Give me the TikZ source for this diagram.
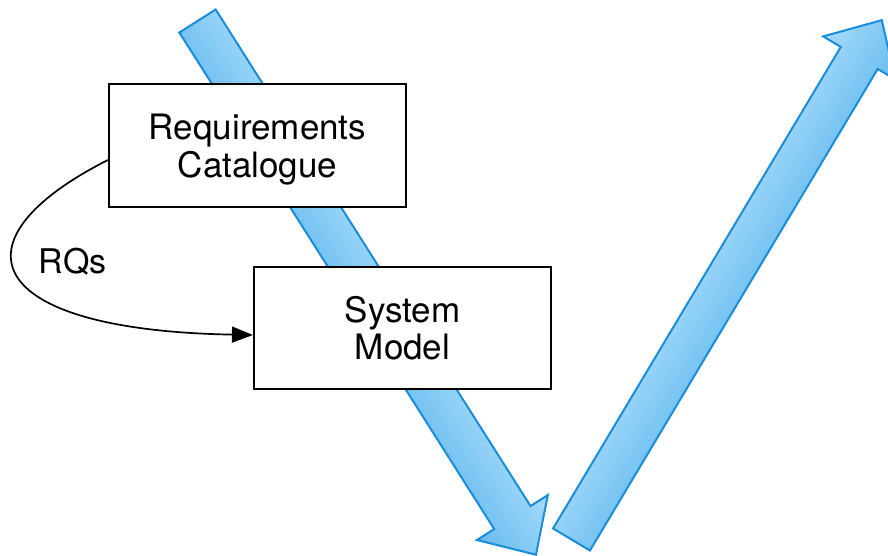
\documentclass[tikz,border=0pt]{standalone}
\usepackage{fontspec}
\setmainfont{TeX Gyre Heros}
\usetikzlibrary{arrows.meta}

\definecolor{vblue}{RGB}{27,141,216}
\definecolor{vlight}{RGB}{166,219,250}
\definecolor{vdark}{RGB}{102,187,239}

\tikzset{
  flowbox/.style={draw=black, line width=2.2pt, fill=white, inner sep=0pt,
    minimum width=297pt, minimum height=122.5pt, align=center, text depth=0pt,
    font=\fontsize{35}{37.5}\selectfont},
  plainlabel/.style={inner sep=0pt, font=\fontsize{34}{37.5}\selectfont},
  bigarrow/.style={draw=vblue, line width=2pt, line join=miter,
    top color=vlight, bottom color=vdark},
  link/.style={line width=1.7pt, -{Triangle[length=21pt,width=16pt]}},
}

\begin{document}
\begin{tikzpicture}[x=1pt,y=-1pt]
\useasboundingbox (0,0) rectangle (888,556);

% the two broad blue arrows of the V
\begin{scope}
  \clip (0,0) rectangle (888,556);
  % descending branch
  \begin{scope}[transform canvas={shift={(197.5pt,-21pt)},rotate=-57.62}]
    \path[bigarrow] (0pt,21.5pt) -- (588pt,21.5pt) -- (588pt,42pt) -- (632pt,0pt)
      -- (588pt,-42pt) -- (588pt,-21.5pt) -- (0pt,-21.5pt) -- cycle;
  \end{scope}
  % ascending branch
  \begin{scope}[transform canvas={shift={(571.5pt,-539.5pt)},rotate=59.14}]
    \path[bigarrow] (0pt,21.5pt) -- (561pt,21.5pt) -- (561pt,42pt) -- (605pt,0pt)
      -- (561pt,-42pt) -- (561pt,-21.5pt) -- (0pt,-21.5pt) -- cycle;
  \end{scope}
\end{scope}

% boxes
\node[flowbox] (rc) at (257.5,145.5) {Requirements\\Catalogue};
\node[flowbox] (sm) at (402.5,328) {System\\Model};

% requirements flow into the model
\draw[link] ([yshift=-14.5pt]rc.west) .. controls (-50,240) and (-20,330) .. ([yshift=-7pt]sm.west);
\node[plainlabel] (rq) at (72.5,262) {RQs};
\end{tikzpicture}
\end{document}
